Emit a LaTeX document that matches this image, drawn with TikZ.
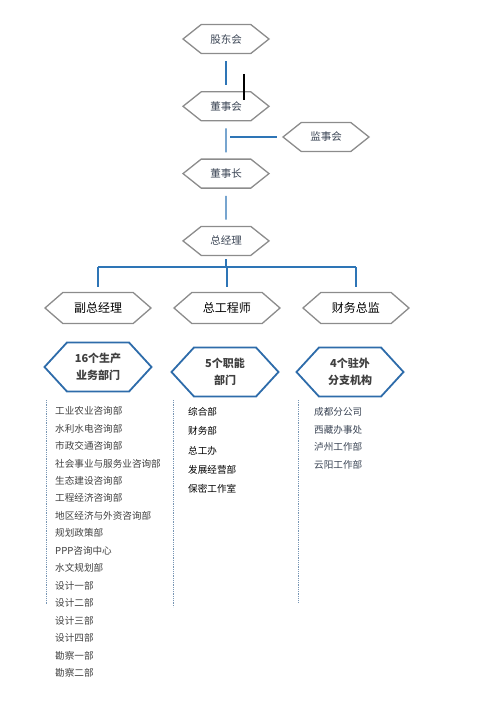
\documentclass[tikz,border=0pt]{standalone}
\usepackage{fontspec}
\newfontfamily\cjk{Noto Sans CJK SC}
\usetikzlibrary{positioning, shapes.symbols}
\definecolor{lineblue}{RGB}{46,117,182}
\definecolor{hexgray}{RGB}{140,140,140}
\definecolor{boxblue}{RGB}{46,108,170}
\definecolor{txtgray}{RGB}{64,64,64}
\definecolor{txtslate}{RGB}{58,68,84}
\definecolor{dotblue}{RGB}{120,150,180}

\begin{document}
\begin{tikzpicture}[x=1pt, y=-1pt, node distance=37pt]
  \tikzset{
    hexnode/.style={signal, signal to=west and east, signal pointer angle=77,
                    draw=hexgray, line width=1.3pt, fill=white, inner sep=0pt,
                    minimum width=86pt, minimum height=29pt,
                    font=\cjk\fontsize{10.5}{12}\selectfont, text=txtslate},
    midnode/.style={hexnode, signal pointer angle=82,
                    minimum width=106pt, minimum height=31pt,
                    font=\cjk\fontsize{12}{14}\selectfont, text=black},
    deptnode/.style={hexnode, draw=boxblue, line width=1.8pt, signal pointer angle=95,
                     minimum width=107pt, minimum height=49pt, align=center,
                     font=\cjk\bfseries\fontsize{11}{17}\selectfont, text=txtgray},
    link/.style={draw=lineblue, line width=1.2pt},
    item/.style={anchor=west, inner sep=0pt, font=\cjk\fontsize{9.6}{11}\selectfont},
    guide/.style={draw=dotblue, densely dotted, line width=0.8pt}
  }
  \useasboundingbox (0,0) rectangle (492,706);

  % governance column
  \node[hexnode] (gdh) at (226,39) {股东会};
  \node[hexnode, below=of gdh] (dsh) {董事会};
  \node[hexnode, below=of dsh] (dsz) {董事长};
  \node[hexnode, below=of dsz] (zjl) {总经理};
  \node[hexnode] (jsh) at (326,137) {监事会};

  \foreach \a/\b in {gdh/dsh, dsh/dsz, dsz/zjl}
    \draw[link, shorten <=7pt, shorten >=6pt] (\a) -- (\b);
  \draw[link, shorten <=5pt, shorten >=4pt] (jsh.west) -- (jsh.west -| dsh);
  \draw[line width=1.6pt] (244,74) -- (244,100);

  % second level
  \node[midnode] (fzjl) at (98,308) {副总经理};
  \node[midnode, right=21pt of fzjl] (zgcs) {总工程师};
  \node[midnode, right=21pt of zgcs] (cwzj) {财务总监};

  \coordinate (bus) at (226,267);
  \draw[link, shorten <=3pt] (zjl.south) -- (zjl.south |- bus);
  \draw[link] (fzjl.north |- bus) -- (cwzj.north |- bus);
  \foreach \n in {fzjl, zgcs, cwzj}
    \draw[link, shorten >=5pt] (\n.north |- bus) -- (\n.north);

  % departments
  \node[deptnode] (scb) at (98,367) {16个生产\\业务部门};
  \node[deptnode] (znb) at (225,372) {5个职能\\部门};
  \node[deptnode] (fzb) at (350,372) {4个驻外\\分支机构};

  \draw[guide] (46,400) -- (46,605);
  \draw[guide] (173,400) -- (173,607);
  \draw[guide] (298,400) -- (298,602);

  \foreach \t [count=\i from 0] in {工业农业咨询部, 水利水电咨询部, 市政交通咨询部,
      社会事业与服务业咨询部, 生态建设咨询部, 工程经济咨询部, 地区经济与外资咨询部,
      规划政策部, PPP咨询中心, 水文规划部, 设计一部, 设计二部, 设计三部, 设计四部,
      勘察一部, 勘察二部}
    \node[item, text=txtgray] (p\i) at (55,411+17.47*\i) {\t};
  \foreach \t [count=\i from 0] in {综合部, 财务部, 总工办, 发展经营部, 保密工作室}
    \node[item, text=black] (f\i) at (188,412+19.2*\i) {\t};
  \foreach \t [count=\i from 0] in {成都分公司, 西藏办事处, 泸州工作部, 云阳工作部}
    \node[item, text=txtslate] (b\i) at (314,412+17.6*\i) {\t};
\end{tikzpicture}
\end{document}
